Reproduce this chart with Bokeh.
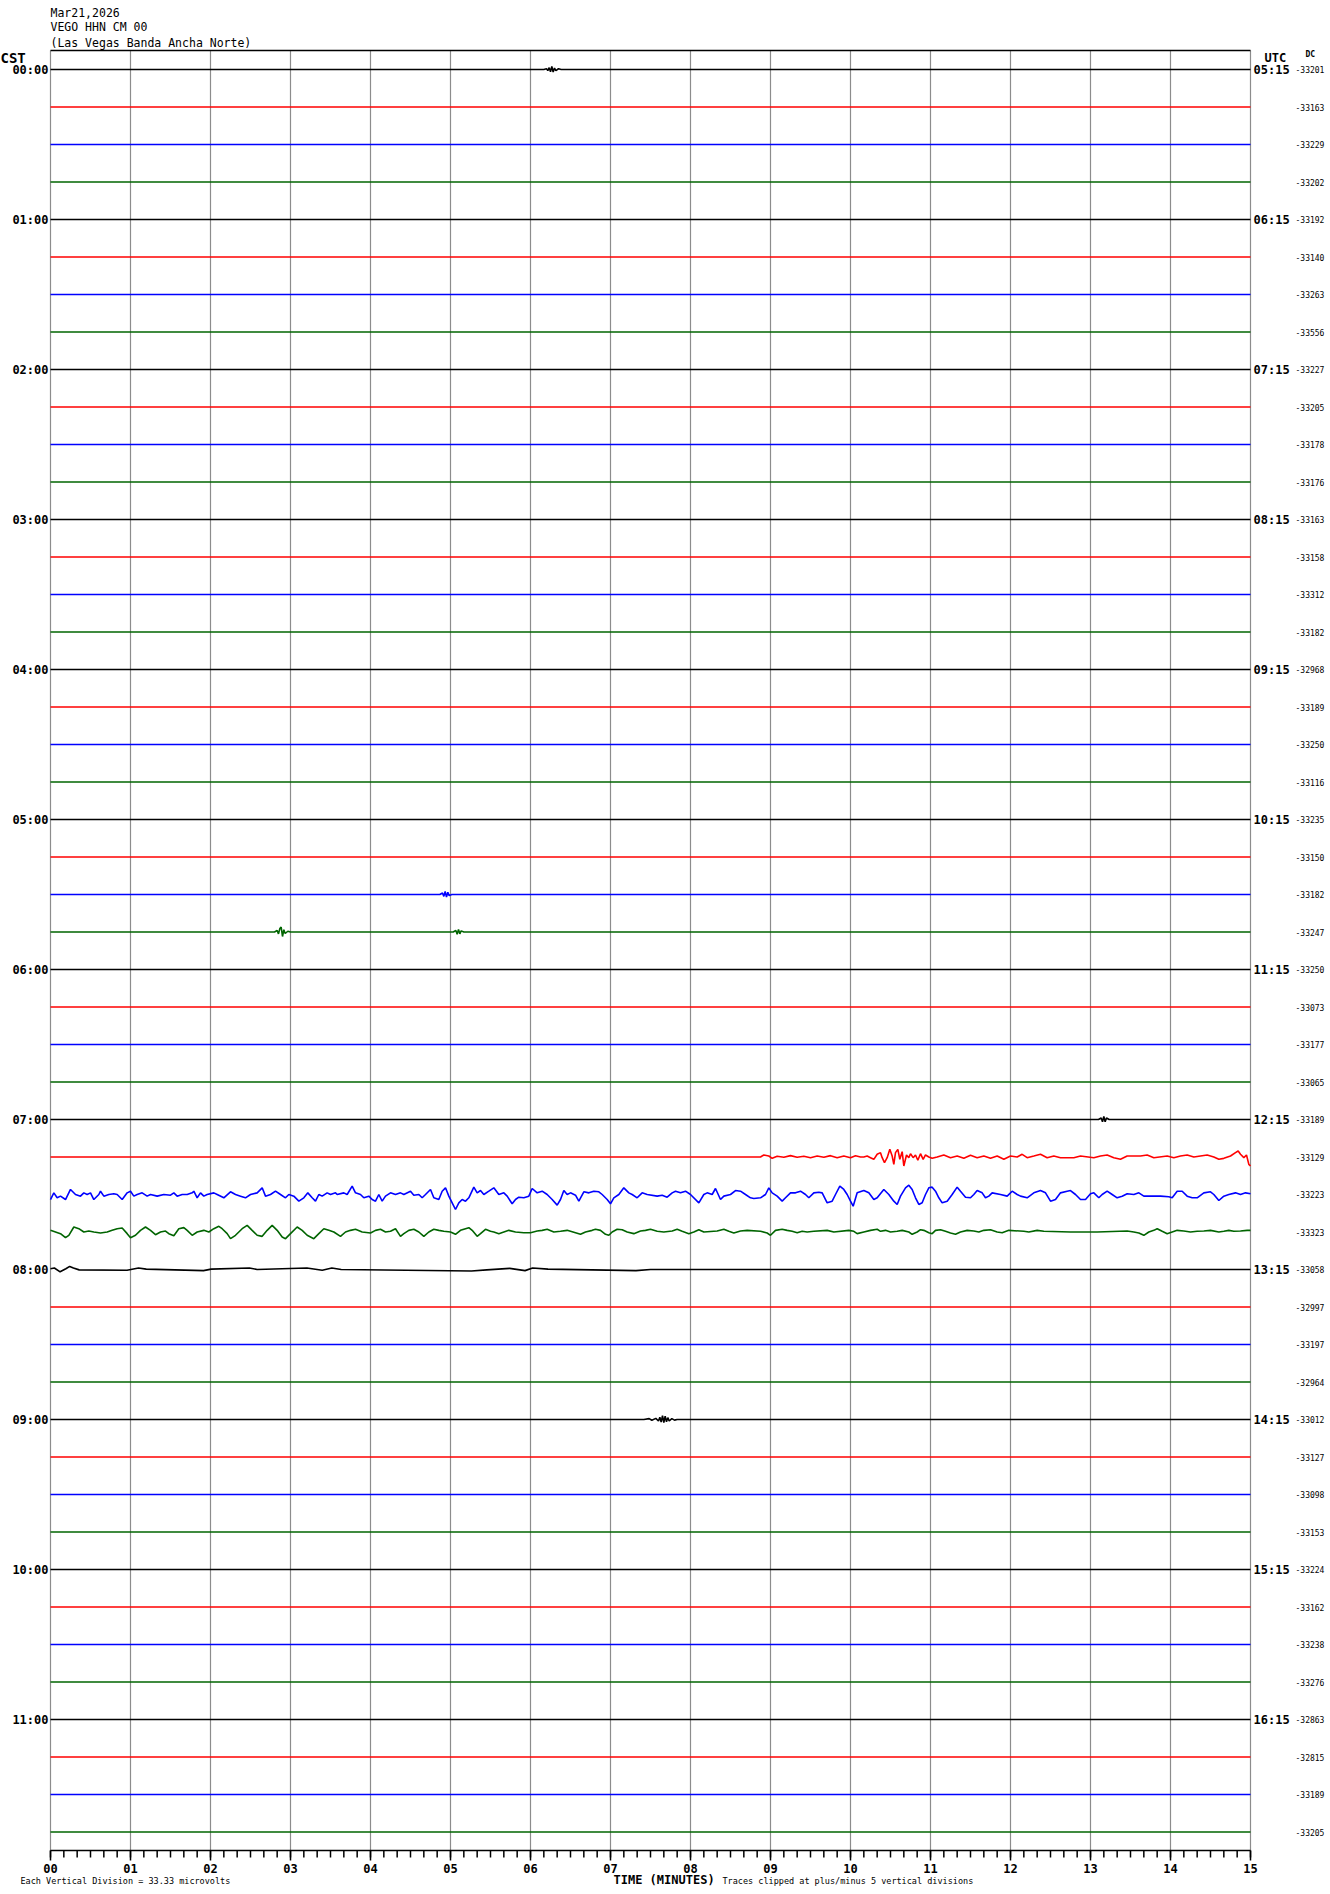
import numpy as np
from bokeh.plotting import figure
from bokeh.models import Range1d
from bokeh.core.properties import value
from bokeh.embed import file_html
from bokeh.resources import INLINE

# ---------------- text / labels ----------------
date_text = "Mar21,2026"
station_text = "VEGO HHN CM 00"
station_name = "(Las Vegas Banda Ancha Norte)"
cst_hours = ["00:00", "01:00", "02:00", "03:00", "04:00", "05:00",
             "06:00", "07:00", "08:00", "09:00", "10:00", "11:00"]
utc_hours = ["05:15", "06:15", "07:15", "08:15", "09:15", "10:15",
             "11:15", "12:15", "13:15", "14:15", "15:15", "16:15"]
minute_labels = ["00", "01", "02", "03", "04", "05", "06", "07",
                 "08", "09", "10", "11", "12", "13", "14", "15"]
dc_values = [-33201, -33163, -33229, -33202, -33192, -33140, -33263, -33556,
             -33227, -33205, -33178, -33176, -33163, -33158, -33312, -33182,
             -32968, -33189, -33250, -33116, -33235, -33150, -33182, -33247,
             -33250, -33073, -33177, -33065, -33189, -33129, -33223, -33323,
             -33058, -32997, -33197, -32964, -33012, -33127, -33098, -33153,
             -33224, -33162, -33238, -33276, -32863, -32815, -33189, -33205]
footer_left = "Each Vertical Division =   33.33 microvolts"
footer_mid = "TIME (MINUTES)"
footer_right = "Traces clipped at plus/minus 5 vertical divisions"
trace_colors = ["#000000", "#FF0000", "#0000FF", "#006400"]
n_traces = 48
trace_seconds = 900
divs_per_trace = 5          # trace spacing, in vertical divisions
clip_divs = 5

# ---------------- waveform readings (seconds, divisions) ----------------
# 00:00 black: small local event
t_0000 = [0, 370, 372, 373, 374, 375, 376, 377, 378, 379, 381, 383, 900]
a_0000 = [0, 0, 0.1, -0.15, 0.25, -0.3, 0.4, -0.35, 0.2, -0.15, 0.1, 0, 0]

# 05:30 blue
t_0530 = [0, 292, 294, 295, 296, 297, 298, 299, 301, 900]
a_0530 = [0, 0, 0.2, -0.25, 0.4, -0.35, 0.3, -0.15, 0, 0]

# 05:45 green
t_0545 = [0, 168, 170, 171, 172, 173, 174, 175, 176, 178, 180,
          302, 304, 305, 306, 307, 308, 310, 900]
a_0545 = [0, 0, 0.2, -0.25, 0.45, 0.65, -0.6, 0.3, -0.2, 0.1, 0,
          0, 0.2, -0.3, 0.35, -0.25, 0.15, 0, 0]

# 07:00 black
t_0700 = [0, 786, 788, 789, 790, 791, 792, 794, 900]
a_0700 = [0, 0, 0.2, -0.3, 0.4, -0.3, 0.2, 0, 0]

# 07:15 red: noise from ~8.5 min, burst near 10.5 min
t_0715 = [0, 530, 532.5, 535, 538.75, 541.25, 545, 550, 555, 560, 565, 570, 575,
          580, 585, 590, 595, 600, 603.75, 607.5, 610, 612.5, 615, 617.5, 620,
          622.5, 623.75, 625.5, 627.5, 629.5, 631.25, 632.5, 633.75, 635.5, 637,
          638.75, 640, 642, 643.75, 645, 647, 648.75, 650.5, 652.5, 654.5, 656.25,
          658.75, 661.25, 665, 670, 675, 680, 685, 690, 695, 700, 705, 710, 715,
          720, 725, 728.75, 732.5, 737.5, 742.5, 747.5, 752.5, 757.5, 767.5, 772.5,
          782.5, 787.5, 792.5, 797.5, 802.5, 807.5, 817.5, 822.5, 827.5, 837.5,
          842.5, 847.5, 852.5, 857.5, 867.5, 872.5, 876.25, 880, 885, 888.75,
          890.75, 892.5, 895, 897, 898.75, 900]
a_0715 = [0, 0, 0, 0.27, 0.13, -0.18, 0.09, -0.04, 0.18, -0.04, 0.09, -0.09, 0.13,
          -0.04, 0.18, -0.09, 0.13, -0.09, 0.18, 0, 0, 0.13, -0.09, -0.31, 0.36,
          0.58, -0.09, -0.76, -0.09, 1.02, 0.13, -0.98, 0.58, 1.02, -0.31,
          0.71, -1.2, 0.27, -0.09, 0.44, -0.09, 0.27, -0.44, 0.44, -0.31, 0.27,
          0, -0.18, 0, 0.27, -0.09, 0.13, -0.18, 0.22, -0.09, 0.13, -0.18, 0.13, -0.31,
          0.13, 0, 0.36, -0.09, 0.13, 0.36, -0.09, 0.13, -0.09, -0.09, 0.13,
          -0.09, 0.13, 0.27, -0.09, -0.31, 0.13, 0.13, 0.27, -0.09, 0.13,
          -0.09, 0.13, 0.27, 0, 0.27, 0, -0.31, -0.18, 0.13, 0.58,
          0.8, 0.36, -0.09, 0.27, -0.98, -1.2]

# 07:30 blue: microseism-like oscillation
t_0730 = [0, 2.5, 5, 7.5, 11.25, 15, 18.75, 22.5, 25, 27.5, 30, 32.5, 36.25, 37.5,
          40, 43.75, 47.5, 50, 53.75, 57.5, 60, 62.5, 65, 68.75, 72.5, 75, 80, 85,
          90, 92.5, 95, 98.75, 102.5, 106.25, 107.5, 110, 112.5, 115, 117.5, 122.5,
          125, 130, 135, 138.75, 142.5, 146.25, 150, 155, 158.75, 161.25, 165,
          168.75, 172.5, 176.25, 178.75, 182.5, 186.25, 190, 193, 196.25, 198.75,
          201.25, 203.75, 207.5, 210, 213.75, 215, 220, 222.5, 226.25, 228.75,
          232.5, 235, 238.75, 241.25, 243.75, 246.25, 248.75, 251.25, 255, 258.75,
          262.5, 265, 270, 272.5, 276.25, 278.75, 281.25, 285, 287.5, 291.25,
          293.75, 296.25, 298.75, 301.25, 303.75, 306.25, 308.75, 311.25, 313.75,
          317.5, 320, 322.5, 325, 328.75, 332.5, 336.25, 340, 342.5, 346.25, 348.75,
          351.25, 355, 358.75, 361.25, 365, 368.75, 372.5, 376.25, 380, 382.5, 385,
          387.5, 390, 393.75, 396.25, 400, 403.75, 407.5, 411.25, 413.75, 417.5,
          420, 422.5, 426.25, 430, 433.75, 436.25, 440, 443.75, 447.5, 455, 458.75,
          462.5, 466.25, 468.75, 472.5, 476.25, 480, 486.25, 490, 492.5, 496.25,
          498.75, 502.5, 505, 510, 513.75, 517.5, 521.25, 525, 527.5, 532.5,
          536.25, 538.75, 541.25, 545, 548.75, 551.25, 555, 558.75, 562.5, 566.25,
          568.75, 572.5, 576.25, 578.75, 582.5, 586.25, 588.75, 592, 595, 597.5,
          600, 602, 605, 610, 613.75, 617.5, 620, 625, 628.75, 632.5, 635, 637.5,
          641.25, 643.75, 646.25, 648.75, 651.25, 653.75, 656.25, 658.75, 661.25,
          663.75, 666.25, 668.75, 672.5, 676.25, 680, 682.5, 686.25, 690, 692.5,
          695, 698.75, 701.25, 703.75, 706.25, 712.5, 717.5, 721.25, 725, 727.5,
          732.5, 737.5, 742.5, 746.25, 750, 753.75, 757.5, 762.5, 765, 768.75,
          772.5, 776.25, 780, 782.5, 786.25, 788.75, 792.5, 796.25, 800, 803.75,
          807.5, 812.5, 816.25, 820, 825, 832.5, 838.75, 841.25, 845, 848.75,
          852.5, 856.25, 860, 865, 870, 872.5, 876.25, 880, 883.75, 888.75, 892.5,
          896.25, 900]
a_0730 = [-0.67, 0.22, -0.44, -0.22, -0.67, 0.67, 0, -0.22, 0.22, 0, 0.22, -0.67, 0, 0.44,
          -0.22, 0, 0.09, 0, -0.67, 0.22, 0.44, -0.22, 0, 0.22, -0.22, 0, -0.22, 0,
          -0.09, 0.22, -0.22, 0, 0, 0.22, 0.44, -0.44, 0.22, -0.22, 0, 0.22,
          0, -0.44, 0.36, 0, -0.22, -0.44, 0, 0.22, 0.89, -0.22, 0,
          0.44, 0, -0.44, 0, -0.22, -0.89, -0.44, 0.22, -0.44, -0.89,
          0, -0.22, 0.22, 0, 0.22, 0, 0.22, 0, 1.11, 0.22,
          0, -0.44, -0.22, -0.67, -0.89, 0, -0.89, -0.22, 0.22, 0,
          0.22, 0, 0.44, -0.09, 0, -0.44, 0, 0.67, -0.44, -0.67,
          0.44, 0.89, -0.22, -1.11, -2.0, -1.11, -0.67, -0.89, -0.44,
          0.98, 0.22, 0.53, 0, 0.44, 0.89, 0, 0.22, -0.22, -1.24, -0.67,
          -0.36, -0.44, -0.22, 0.8, 0.22, 0.44, 0, -0.67, -1.42, -0.67, 0.53,
          0, 0.22, -0.09, -0.89, 0.36, 0.22, 0.44, 0.36, 0, -0.67,
          -1.24, -0.44, 0, 0.89, 0.22, 0, -0.44, 0.22, 0, -0.22, -0.09,
          -0.36, 0.22, 0.44, 0.22, 0.44, 0, -1.11, 0, 0.22, 0,
          0.8, -0.67, -0.22, 0, 0.53, 0.44, 0, -0.44, -0.53, -0.44,
          0, 0.89, 0.22, -0.22, -0.89, -0.44, 0.22, 0.22, 0.44, 0,
          -0.44, 0.22, 0.31, 0.22, -1.11, -0.89, 0, 1.11, 0.67, 0,
          -0.89, -1.56, 0.22, 0.53, 0.22, -0.67, -0.44, 0.67, 0, -0.89, -1.33, -0.22,
          0.89, 1.24, 0.67, -0.44, -1.33, -1.11, 0, 0.89, 0.98,
          0.44, -0.44, -1.11, -0.89, 0, 0.98, 0.44, -0.36, -0.44, 0,
          0.53, 0.22, -0.44, -0.22, 0.22, 0, -0.22, 0.44, 0, -0.22,
          -0.44, 0.22, 0.53, 0.22, -0.89, -0.67, 0.22, 0.44, 0.53, 0,
          -0.67, -0.67, 0.09, 0.22, -0.44, 0, 0.44, 0, -0.44, -0.22,
          0.09, 0, 0.22, -0.22, -0.22, -0.22, -0.31, -0.44, 0.44, 0.44,
          -0.22, -0.44, -0.44, 0.22, 0.36, 0, -0.8, -0.22, 0, 0.22, 0,
          0.22, 0.09]

# 07:45 green: longer-period oscillation, decaying later
t_0745 = [0, 7.5, 11.25, 13.75, 17.5, 21.25, 25, 28.75, 32.5, 37.5, 42.5, 46.25, 50,
          53.75, 57.5, 60, 63.75, 67.5, 71.25, 75, 78.75, 82.5, 86.25, 88.75, 92.5,
          96.25, 100, 102.5, 106.25, 110, 115, 118.75, 122.5, 126.25, 128.75, 132.5,
          135, 138.75, 143.75, 147.5, 151.25, 155, 158.75, 162.5, 166.25, 170,
          173.75, 176.25, 180, 185, 188.75, 192.5, 197.5, 201.25, 205, 208.75,
          212.5, 217.5, 221.25, 225, 228.75, 233.75, 240, 243.75, 247.5, 251.25,
          255, 258.75, 262.5, 265, 268.75, 272.5, 276.25, 280, 283.75, 287.5,
          291.25, 295, 300, 303.75, 307.5, 311.25, 313.75, 316.25, 320, 322.5,
          326.25, 330, 332.5, 336.25, 340, 343.75, 348.75, 355, 360, 365, 368.75,
          372.5, 377.5, 382.5, 387.5, 397.5, 401.25, 406.25, 408.75, 412.5,
          416.25, 418.75, 421.25, 425, 428.75, 432.5, 437.5, 442.5, 446.25, 450,
          455, 460, 466.25, 470, 473.75, 478.75, 482.5, 486.25, 490, 500, 505,
          508.75, 512.5, 517.5, 522.5, 532.5, 537.5, 540, 543.75, 548.75, 552.5,
          556.25, 560, 563.75, 567.5, 572.5, 582.5, 587.5, 598.75, 602.5, 605,
          610, 615, 620, 622.5, 626.25, 630, 635, 638.75, 643.75, 646.25, 650,
          652.5, 655, 658.75, 661.25, 663.75, 667.5, 671.25, 675, 678.75, 682.5,
          687.5, 692.5, 696.25, 700, 705, 710, 713.75, 718.75, 730, 733.75, 740,
          745, 765, 785, 807.5, 812.5, 816.25, 820, 823.75, 827.5, 830, 833.75,
          837.5, 841.25, 845, 850, 855, 860, 865, 870, 876.25, 880, 883.75, 887.5,
          892.5, 897.5, 900]
a_0745 = [0.22, -0.22, -0.76, -0.44, 0.67, 0.44, 0, 0.13, 0, -0.13, 0, 0.22, 0.44,
          0.53, -0.22, -0.76, -0.44, 0.22, 0.67, 0.22, -0.36, 0, 0.13, -0.22, -0.49,
          0.44, 0.58, 0.22, -0.44, 0, 0.22, 0, 0.44, 0.76, 0.44, -0.22,
          -0.89, -0.44, 0.44, 0.89, 0.22, -0.44, -0.58, 0.22, 0.89, 0.22,
          -0.67, -0.89, -0.22, 0.67, 0.22, -0.44, -0.89, -0.22, 0.44, 0.22,
          0, -0.58, 0, 0.22, 0.36, 0, -0.13, 0.22, 0.36, 0,
          0.09, 0.44, -0.58, -0.22, 0.22, 0.36, 0, -0.58, 0, 0.36,
          0.22, 0.09, 0, -0.31, 0.22, 0.44, 0.58, 0.22, -0.58, -0.22,
          0.36, 0.09, 0, -0.22, 0, 0.22, 0, -0.09, -0.09, 0.13, 0.22,
          0.36, 0, 0.09, 0.22, -0.31, 0, 0.22, 0.36, 0.22,
          -0.31, -0.44, 0, 0.36, 0.31, 0, -0.22, 0.13, 0.22, 0.36,
          0.09, 0, 0.13, 0.36, 0.09, -0.22, 0, 0.31, 0, 0.13, 0.36,
          0.09, -0.13, 0.13, 0.22, 0.09, -0.13, -0.44, 0.22, 0.36, 0.22,
          0.09, -0.09, 0.09, 0, 0.09, 0.22, 0, 0.22, 0.09, -0.22,
          0, 0.22, 0.36, 0.09, 0.22, 0, 0.09, 0.22, 0, -0.31, 0,
          0.31, 0.22, -0.09, -0.22, 0.22, 0.31, 0.09, -0.13, -0.31, 0,
          0.22, 0.13, 0, 0.22, 0.31, 0, -0.09, 0.22, 0.09, 0, 0.22,
          0.09, 0, 0, 0.13, 0, -0.13, -0.44, 0, 0.22, 0.44, 0.09,
          -0.22, 0, 0.22, 0.13, 0, 0.09, 0.13, 0.22, 0, 0.09, 0.22, 0.09,
          0.13, 0.22, 0.22]

# 08:00 black: slight wobble in first half
t_0800 = [0, 2.9, 7.2, 11.5, 14.4, 17.2, 21.5, 57.4, 66, 71.8, 114.8, 120.5, 149.2,
          155, 192.3, 203.8, 211, 218, 315.7, 327.2, 344.4, 355.9, 361.6, 373.1,
          439.1, 450, 900]
a_0800 = [0.1, 0.2, -0.31, 0.1, 0.41, 0.2, -0.05, -0.1, 0.2, 0.05, -0.15, 0.05, 0.2,
          0, 0.2, -0.1, 0.2, 0, -0.2, -0.05, 0.15, -0.15, 0.2, 0.05,
          -0.15, 0, 0]

# 09:00 black: small local event
t_0900 = [0, 445, 449, 451, 454, 456, 457, 458, 459, 460, 461, 462, 463, 464, 466,
          468, 470, 900]
a_0900 = [0, 0, 0.12, -0.1, 0.15, -0.2, 0.3, -0.35, 0.5, -0.4, 0.45, -0.3, 0.25,
          -0.2, 0.12, -0.08, 0, 0]

trace_readings = {
    0: (t_0000, a_0000), 22: (t_0530, a_0530), 23: (t_0545, a_0545),
    28: (t_0700, a_0700), 29: (t_0715, a_0715), 30: (t_0730, a_0730),
    31: (t_0745, a_0745), 32: (t_0800, a_0800), 36: (t_0900, a_0900),
}
quiet_t = [0, trace_seconds]
quiet_a = [0, 0]

# ---------------- layout: page pixels -> data units ----------------
W, H = 1330, 1894          # figure size; its top-left lands at page (0, 0)
PAGE_X0, PAGE_Y0 = 0, 0
FRAME_LEFT, FRAME_RIGHT = 50, 1250      # page x of 0 s and 900 s
ROW0_Y, ROW_SPACING = 69, 37.5          # page y of first trace, spacing
FRAME_TOP, FRAME_BOTTOM = 50, 1850      # page y of plot box
sec_per_px = trace_seconds / (FRAME_RIGHT - FRAME_LEFT)
div_per_px = divs_per_trace / ROW_SPACING


def sx(px):
    return (px - FRAME_LEFT) * sec_per_px


def dy(py):
    return (ROW0_Y - py) * div_per_px


p = figure(width=W, height=H,
           x_range=Range1d(sx(PAGE_X0), sx(PAGE_X0 + W)),
           y_range=Range1d(dy(PAGE_Y0 + H), dy(PAGE_Y0)),
           output_backend="svg", toolbar_location=None,
           x_axis_type=None, y_axis_type=None,
           min_border=0, min_border_left=0, min_border_right=0,
           min_border_top=0, min_border_bottom=0)
p.outline_line_color = None
p.background_fill_color = "white"
p.border_fill_color = "white"
p.xgrid.visible = False
p.ygrid.visible = False

y_box_top, y_box_bot = dy(FRAME_TOP), dy(FRAME_BOTTOM)
minute_secs = np.arange(0, trace_seconds + 1, 60)
minor_secs = np.arange(0, trace_seconds + 1, 10)

# vertical minute grid
p.segment(x0=minute_secs, y0=np.full(len(minute_secs), y_box_top),
          x1=minute_secs, y1=np.full(len(minute_secs), y_box_bot),
          line_color="#8c8c8c", line_width=1.2)
# top border and time axis line
p.segment(x0=[0, 0], y0=[y_box_top, y_box_bot], x1=[trace_seconds, trace_seconds],
          y1=[y_box_top, y_box_bot], line_color="black", line_width=1.5)
# ticks
p.segment(x0=minor_secs, y0=np.full(len(minor_secs), y_box_bot),
          x1=minor_secs, y1=np.full(len(minor_secs), dy(FRAME_BOTTOM + 7)),
          line_color="black", line_width=1.5)
p.segment(x0=minute_secs, y0=np.full(len(minute_secs), y_box_bot),
          x1=minute_secs, y1=np.full(len(minute_secs), dy(FRAME_BOTTOM + 10)),
          line_color="black", line_width=1.5)

# traces
for i in range(n_traces):
    t, a = trace_readings.get(i, (quiet_t, quiet_a))
    a = np.clip(np.asarray(a, dtype=float), -clip_divs, clip_divs)
    y = -i * divs_per_trace + a
    p.line(np.asarray(t, dtype=float), y, line_color=trace_colors[i % 4], line_width=1.6)

MONO = "DejaVu Sans Mono"


def put_text(xs, ys, texts, size, align="left", bold=False):
    p.text(x=list(xs), y=list(ys), text=list(texts), text_font=value(MONO),
           text_font_size=size, text_font_style="bold" if bold else "normal",
           text_align=align, text_baseline="middle", text_color="black")


# header
put_text([sx(50)] * 3, [dy(12), dy(26), dy(42)],
         [date_text, station_text, station_name], "11.5px")
put_text([sx(0)], [dy(57)], ["CST"], "14px", bold=True)
put_text([sx(1264)], [dy(57)], ["UTC"], "12px", bold=True)
put_text([sx(1305)], [dy(54)], ["DC"], "8px", bold=True)

# hour labels
hour_rows = -np.arange(len(cst_hours)) * 4 * divs_per_trace
put_text([sx(48)] * len(cst_hours), hour_rows, cst_hours, "12px", align="right", bold=True)
put_text([sx(1253)] * len(utc_hours), hour_rows, utc_hours, "12px", bold=True)

# DC offsets
put_text([sx(1295)] * n_traces, -np.arange(n_traces) * divs_per_trace,
         [str(v) for v in dc_values], "8px")

# minute tick labels
put_text(minute_secs, [dy(1868)] * len(minute_secs), minute_labels, "12px",
         align="center", bold=True)

# footer
put_text([sx(20)], [dy(1880)], [footer_left], "8.5px")
put_text([sx(613)], [dy(1879)], [footer_mid], "12px", bold=True)
put_text([sx(722)], [dy(1880)], [footer_right], "8.5px")

open("out.html", "w").write(file_html(p, INLINE))
